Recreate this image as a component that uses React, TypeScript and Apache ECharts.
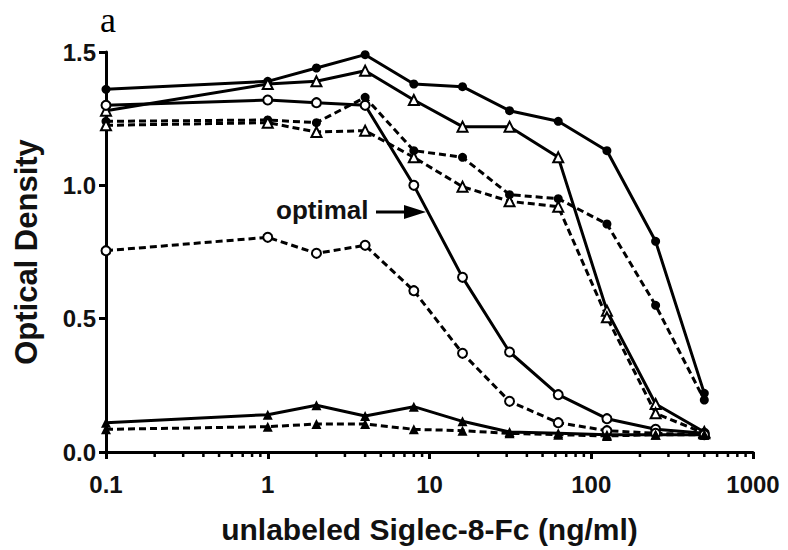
import React, { useEffect, useRef } from "react";
import * as echarts from "echarts";

const concentrations = [0.1, 1, 2, 4, 8, 16, 31.25, 62.5, 125, 250, 500];

const solidFilledCircle = [1.36, 1.39, 1.44, 1.49, 1.38, 1.37, 1.28, 1.24, 1.13, 0.79, 0.22];
const solidOpenTriangle = [1.28, 1.38, 1.39, 1.43, 1.32, 1.22, 1.22, 1.105, 0.53, 0.18, 0.075];
const solidOpenCircle = [1.3, 1.32, 1.31, 1.3, 1.0, 0.655, 0.375, 0.215, 0.125, 0.085, 0.07];
const dashedFilledCircle = [1.24, 1.245, 1.235, 1.33, 1.13, 1.105, 0.965, 0.95, 0.855, 0.55, 0.195];
const dashedOpenTriangle = [1.225, 1.235, 1.2, 1.205, 1.105, 0.995, 0.94, 0.92, 0.505, 0.145, 0.07];
const dashedOpenCircle = [0.755, 0.805, 0.745, 0.775, 0.605, 0.37, 0.19, 0.11, 0.08, 0.07, 0.065];
const solidFilledTriangle = [0.11, 0.14, 0.175, 0.135, 0.17, 0.115, 0.075, 0.07, 0.065, 0.065, 0.065];
const dashedFilledTriangle = [0.085, 0.095, 0.105, 0.105, 0.085, 0.08, 0.07, 0.065, 0.06, 0.065, 0.065];

const minorTickValues = [
  0.2, 0.3, 0.4, 0.5, 0.6, 0.7, 0.8, 0.9,
  2, 3, 4, 5, 6, 7, 8, 9,
  20, 30, 40, 50, 60, 70, 80, 90,
  200, 300, 400, 500, 600, 700, 800, 900,
];

const yTicks = [0, 0.5, 1.0, 1.5];

const FONT = "'Liberation Sans', Arial, sans-serif";

type Spec = { values: number[]; dashed: boolean; filled: boolean; shape: "circle" | "triangle" };

const specs: Spec[] = [
  { values: solidFilledCircle, dashed: false, filled: true, shape: "circle" },
  { values: solidOpenTriangle, dashed: false, filled: false, shape: "triangle" },
  { values: solidOpenCircle, dashed: false, filled: false, shape: "circle" },
  { values: dashedFilledCircle, dashed: true, filled: true, shape: "circle" },
  { values: dashedOpenTriangle, dashed: true, filled: false, shape: "triangle" },
  { values: dashedOpenCircle, dashed: true, filled: false, shape: "circle" },
  { values: solidFilledTriangle, dashed: false, filled: true, shape: "triangle" },
  { values: dashedFilledTriangle, dashed: true, filled: true, shape: "triangle" },
];

export default function App() {
  const ref = useRef<HTMLDivElement>(null);
  useEffect(() => {
    if (!ref.current) return;
    document.body.style.margin = "0";
    const chart = echarts.init(ref.current, null, { renderer: "svg" });
    const lineSeries = specs.map((s) => ({
      type: "line",
      data: concentrations.map((x, i) => [x, s.values[i]]),
      symbol: s.shape,
      symbolSize: s.shape === "triangle" ? 10 : 9,
      lineStyle: { color: "#000", width: 3, type: s.dashed ? [7, 4] : "solid" },
      itemStyle: {
        color: s.filled ? "#000" : "#fff",
        borderColor: "#000",
        borderWidth: s.filled ? 0 : 2,
      },
      z: 3,
    }));
    const option: any = {
      animation: false,
      backgroundColor: "#fff",
      grid: { left: 106, right: 35, top: 52, bottom: 98, containLabel: false },
      xAxis: {
        type: "log",
        logBase: 10,
        min: 0.1,
        max: 1000,
        name: "unlabeled Siglec-8-Fc (ng/ml)",
        nameLocation: "middle",
        nameGap: 62,
        nameTextStyle: { fontFamily: FONT, fontWeight: "bold", fontSize: 30, color: "#111" },
        axisLine: { lineStyle: { color: "#000", width: 3 } },
        axisTick: { show: true, length: 7, lineStyle: { color: "#000", width: 3 } },
        axisLabel: {
          margin: 20,
          fontFamily: FONT,
          fontWeight: "bold",
          fontSize: 24,
          color: "#111",
          formatter: (v: number) => (v < 1 ? v.toFixed(1) : String(Math.round(v))),
        },
        splitLine: { show: false },
        minorTick: { show: false },
      },
      yAxis: {
        type: "value",
        min: 0,
        max: 1.5,
        interval: 0.5,
        name: "Optical Density",
        nameLocation: "middle",
        nameGap: 64,
        nameRotate: 90,
        nameTextStyle: { fontFamily: FONT, fontWeight: "bold", fontSize: 31, color: "#111" },
        axisLine: { show: true, lineStyle: { color: "#000", width: 3 } },
        axisTick: { show: true, length: 7, lineStyle: { color: "#000", width: 3 } },
        axisLabel: {
          margin: 10,
          fontFamily: FONT,
          fontWeight: "bold",
          fontSize: 24,
          color: "#111",
          formatter: (v: number) => (yTicks.includes(v) ? v.toFixed(1) : ""),
        },
        splitLine: { show: false },
      },
      series: [
        ...lineSeries,
        {
          type: "custom",
          data: minorTickValues.map((v) => [v, 0]),
          encode: { x: 0, y: 1 },
          clip: false,
          silent: true,
          z: 5,
          renderItem: (params: any, api: any) => {
            const p = api.coord([api.value(0), 0]);
            return {
              type: "line",
              shape: { x1: p[0], y1: p[1], x2: p[0], y2: p[1] + 5 },
              style: { stroke: "#000", lineWidth: 2.5 },
            };
          },
        },
      ],
      graphic: [
        {
          type: "text",
          left: 100,
          top: 2,
          style: { text: "a", font: "36px 'Liberation Serif', 'Times New Roman', serif", fill: "#000" },
        },
        {
          type: "text",
          left: 276,
          top: 197,
          style: { text: "optimal", font: `bold 26px ${FONT}`, fill: "#111" },
        },
        {
          type: "line",
          shape: { x1: 376, y1: 212, x2: 410, y2: 212 },
          style: { stroke: "#000", lineWidth: 3 },
        },
        {
          type: "polygon",
          shape: { points: [[404, 205], [426, 212], [404, 219]] },
          style: { fill: "#000" },
        },
      ],
    };
    chart.setOption(option);
    return () => chart.dispose();
  }, []);
  return <div ref={ref} style={{ width: 788, height: 550 }} />;
}
